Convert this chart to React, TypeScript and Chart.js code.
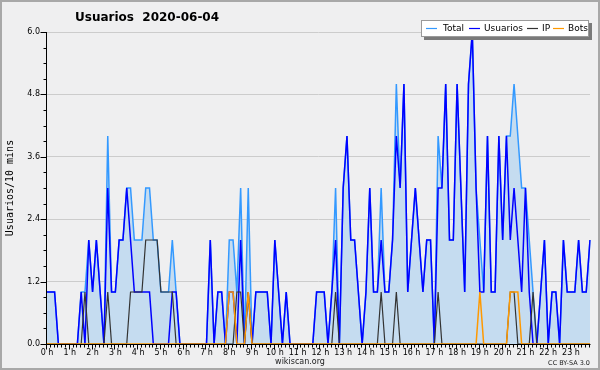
import React, { useEffect, useRef } from "react";
import Chart from "chart.js/auto";

const hourLabels = [
  "0 h", "1 h", "2 h", "3 h", "4 h", "5 h", "6 h", "7 h", "8 h", "9 h", "10 h", "11 h",
  "12 h", "13 h", "14 h", "15 h", "16 h", "17 h", "18 h", "19 h", "20 h", "21 h", "22 h", "23 h",
];
const slotsPerHour = 6;
const categories = hourLabels.flatMap((h) =>
  Array.from({ length: slotsPerHour }, (_, k) => (k === 0 ? h : h.replace(" h", ":" + k + "0")))
);

const usuarios = [
  1, 1, 1, 0, 0, 0, 0, 0, 0, 1, 0, 2,
  1, 2, 1, 0, 3, 1, 1, 2, 2, 3, 2, 1,
  1, 1, 1, 1, 0, 0, 0, 0, 0, 1, 1, 0,
  0, 0, 0, 0, 0, 0, 0, 2, 0, 1, 1, 0,
  1, 1, 0, 2, 0, 1, 0, 1, 1, 1, 1, 0,
  2, 1, 0, 1, 0, 0, 0, 0, 0, 0, 0, 1,
  1, 1, 0, 1, 2, 0, 3, 4, 2, 2, 1, 0,
  1, 3, 1, 1, 2, 1, 1, 2, 4, 3, 5, 1,
  2, 3, 2, 1, 2, 2, 0, 3, 3, 5, 2, 2,
  5, 3, 1, 5, 6, 3, 1, 1, 4, 1, 1, 4,
  2, 4, 2, 3, 2, 1, 3, 1, 0, 0, 1, 2,
  0, 1, 1, 0, 2, 1, 1, 1, 2, 1, 1, 2,
];
const ip = [
  0, 0, 0, 0, 0, 0, 0, 0, 0, 0, 1, 0,
  0, 0, 0, 0, 1, 0, 0, 0, 0, 0, 1, 1,
  1, 1, 2, 2, 2, 2, 1, 1, 1, 1, 0, 0,
  0, 0, 0, 0, 0, 0, 0, 0, 0, 0, 0, 0,
  0, 0, 1, 1, 0, 1, 0, 0, 0, 0, 0, 0,
  0, 0, 0, 0, 0, 0, 0, 0, 0, 0, 0, 0,
  0, 0, 0, 0, 1, 0, 0, 0, 0, 0, 0, 0,
  0, 0, 0, 0, 1, 0, 0, 0, 1, 0, 0, 0,
  0, 0, 0, 0, 0, 0, 0, 1, 0, 0, 0, 0,
  0, 0, 0, 0, 0, 0, 0, 0, 0, 0, 0, 0,
  0, 0, 1, 1, 0, 0, 0, 0, 1, 0, 0, 0,
  0, 0, 0, 0, 0, 0, 0, 0, 0, 0, 0, 0,
];
const bots = [
  0, 0, 0, 0, 0, 0, 0, 0, 0, 0, 0, 0,
  0, 0, 0, 0, 0, 0, 0, 0, 0, 0, 0, 0,
  0, 0, 0, 0, 0, 0, 0, 0, 0, 0, 0, 0,
  0, 0, 0, 0, 0, 0, 0, 0, 0, 0, 0, 0,
  1, 1, 0, 0, 0, 1, 0, 0, 0, 0, 0, 0,
  0, 0, 0, 0, 0, 0, 0, 0, 0, 0, 0, 0,
  0, 0, 0, 0, 0, 0, 0, 0, 0, 0, 0, 0,
  0, 0, 0, 0, 0, 0, 0, 0, 0, 0, 0, 0,
  0, 0, 0, 0, 0, 0, 0, 0, 0, 0, 0, 0,
  0, 0, 0, 0, 0, 0, 1, 0, 0, 0, 0, 0,
  0, 0, 1, 1, 1, 0, 0, 0, 0, 0, 0, 0,
  0, 0, 0, 0, 0, 0, 0, 0, 0, 0, 0, 0,
];
const total = [
  1, 1, 1, 0, 0, 0, 0, 0, 0, 1, 1, 2,
  1, 2, 1, 0, 4, 1, 1, 2, 2, 3, 3, 2,
  2, 2, 3, 3, 2, 2, 1, 1, 1, 2, 1, 0,
  0, 0, 0, 0, 0, 0, 0, 2, 0, 1, 1, 0,
  2, 2, 1, 3, 0, 3, 0, 1, 1, 1, 1, 0,
  2, 1, 0, 1, 0, 0, 0, 0, 0, 0, 0, 1,
  1, 1, 0, 1, 3, 0, 3, 4, 2, 2, 1, 0,
  1, 3, 1, 1, 3, 1, 1, 2, 5, 3, 5, 1,
  2, 3, 2, 1, 2, 2, 0, 4, 3, 5, 2, 2,
  5, 3, 1, 5, 6, 3, 2, 1, 4, 1, 1, 4,
  2, 4, 4, 5, 4, 3, 3, 2, 1, 0, 1, 2,
  0, 1, 1, 0, 2, 1, 1, 1, 2, 1, 1, 2,
];

const yTicks = [0, 1.2, 2.4, 3.6, 4.8, 6.0];
const seriesNames = ["Total", "Usuarios", "IP", "Bots"];
const seriesColors = ["#3399ff", "#0000ff", "#333333", "#ff9900"];

const FONT = "DejaVu Sans";

// legend layout (pixel positions of swatch starts and text starts)
const legendLineX = [426, 469, 527, 553];
const legendTextX = [443, 484, 542, 568];

const decorPlugin = {
  id: "decor",
  beforeDraw(chart: any) {
    const { ctx, width, height } = chart;
    ctx.save();
    ctx.fillStyle = "#efeff0";
    ctx.fillRect(0, 0, width, height);
    ctx.strokeStyle = "#a8a8a8";
    ctx.lineWidth = 2;
    ctx.strokeRect(1, 1, width - 2, height - 2);
    ctx.restore();
  },
  afterDraw(chart: any) {
    const { ctx, chartArea, scales } = chart;
    const { left, right, top, bottom } = chartArea;
    const xs = scales.x;
    const ys = scales.y;
    ctx.save();
    ctx.strokeStyle = "#000";
    ctx.lineWidth = 1;
    const ax = Math.round(left) - 0.5;
    const ay = Math.round(bottom) + 0.5;
    ctx.beginPath();
    ctx.moveTo(ax, Math.round(top));
    ctx.lineTo(ax, ay);
    ctx.lineTo(Math.round(right) + 0.5, ay);
    const yMax = yTicks[yTicks.length - 1];
    const minorStep = (yTicks[1] - yTicks[0]) / 4;
    for (let k = 0; k * minorStep <= yMax + 1e-9; k++) {
      const py = Math.round(ys.getPixelForValue(k * minorStep)) + 0.5;
      const len = k % 4 === 0 ? 6 : 3;
      ctx.moveTo(ax - len, py);
      ctx.lineTo(ax, py);
    }
    for (let i = 0; i < categories.length; i++) {
      const px = Math.round(xs.getPixelForValue(i)) - 0.5;
      const len = i % slotsPerHour === 0 ? 5 : 3;
      ctx.moveTo(px, ay);
      ctx.lineTo(px, ay + len);
    }
    ctx.stroke();

    // title
    ctx.fillStyle = "#000";
    ctx.font = `bold 12px '${FONT}'`;
    ctx.textBaseline = "middle";
    ctx.textAlign = "left";
    ctx.fillText("Usuarios  2020-06-04", 75, 18);

    // legend
    const lx = 421, ly = 20, lw = 168, lh = 17;
    ctx.fillStyle = "#7a7a7a";
    ctx.fillRect(lx + 3, ly + 3, lw, lh);
    ctx.fillStyle = "#ffffff";
    ctx.fillRect(lx, ly, lw, lh);
    ctx.strokeStyle = "#9a9a9a";
    ctx.lineWidth = 1;
    ctx.strokeRect(lx + 0.5, ly + 0.5, lw - 1, lh - 1);
    ctx.font = `9px '${FONT}'`;
    const cy = ly + 8.5;
    seriesNames.forEach((name, i) => {
      ctx.strokeStyle = seriesColors[i];
      ctx.lineWidth = 1.2;
      ctx.beginPath();
      ctx.moveTo(legendLineX[i], cy);
      ctx.lineTo(legendLineX[i] + 11, cy);
      ctx.stroke();
      ctx.fillStyle = "#000";
      ctx.fillText(name, legendTextX[i], cy);
    });

    // footer
    ctx.font = `8px '${FONT}'`;
    ctx.textAlign = "center";
    ctx.fillStyle = "#222";
    ctx.fillText("wikiscan.org", 300, 362);
    ctx.font = `6.5px '${FONT}'`;
    ctx.textAlign = "right";
    ctx.fillText("CC BY-SA 3.0", 590, 363);
    ctx.restore();
  },
};

export default function App() {
  const ref = useRef<HTMLCanvasElement>(null);
  useEffect(() => {
    document.body.style.margin = "0";
    const canvas = ref.current;
    if (!canvas) return;
    const data = [total, usuarios, ip, bots];
    const chart = new Chart(canvas, {
      type: "line",
      data: {
        labels: categories,
        datasets: seriesNames.map((name, i) => ({
          label: name,
          data: data[i],
          borderColor: seriesColors[i],
          backgroundColor: i === 0 ? "#c5dcf0" : seriesColors[i],
          fill: i === 0 ? "origin" : false,
          borderWidth: i === 2 ? 1.2 : 1.5,
          pointRadius: 0,
          tension: 0,
          order: 4 - i,
        })),
      },
      options: {
        responsive: false,
        animation: false,
        devicePixelRatio: 1,
        layout: { padding: { top: 32, right: 10, left: 0, bottom: 0 } },
        plugins: {
          legend: { display: false },
          tooltip: { enabled: false },
          title: { display: false },
        },
        scales: {
          x: {
            type: "category",
            offset: false,
            grid: { display: false, drawTicks: false },
            border: { display: false },
            ticks: {
              autoSkip: false,
              maxRotation: 0,
              minRotation: 0,
              padding: 4,
              color: "#000",
              font: { family: FONT, size: 8 },
              callback: (_v: any, i: number) => (i % slotsPerHour === 0 ? hourLabels[i / slotsPerHour] : ""),
            },
            afterFit: (s: any) => {
              s.height = 26;
            },
          },
          y: {
            min: yTicks[0],
            max: yTicks[yTicks.length - 1],
            afterBuildTicks: (s: any) => {
              s.ticks = yTicks.map((v) => ({ value: v }));
            },
            grid: { color: "#cccccc", drawTicks: false, lineWidth: 1 },
            border: { display: false },
            ticks: {
              padding: 7,
              color: "#000",
              font: { family: FONT, size: 8 },
              callback: (v: any) => Number(v).toFixed(1),
            },
            title: {
              display: true,
              text: "Usuarios/10 mins",
              color: "#000",
              font: { family: "DejaVu Sans Mono", size: 10 },
              padding: { top: 4, bottom: 4 },
            },
            afterFit: (s: any) => {
              s.width = 47;
            },
          },
        },
      },
      plugins: [decorPlugin],
    });
    return () => chart.destroy();
  }, []);
  return (
    <div style={{ width: 600, height: 370 }}>
      <canvas ref={ref} width={600} height={370} style={{ display: "block", width: 600, height: 370 }} />
    </div>
  );
}
